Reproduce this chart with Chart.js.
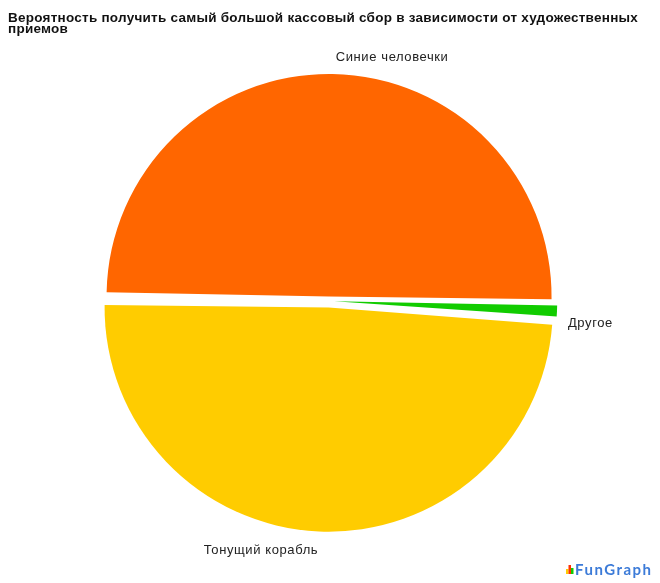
<!DOCTYPE html>
<html><head><meta charset="utf-8">
<script src="https://cdn.jsdelivr.net/npm/chart.js@4/dist/chart.umd.min.js"></script>
<style>html,body{margin:0;padding:0;background:#fff;}#wrap{width:660px;height:583px;}</style>
</head><body><div id="wrap"><canvas id="c" width="660" height="583"></canvas></div>
<script>
const titleLines = ['Вероятность получить самый большой кассовый сбор в зависимости от художественных', 'приемов'];
const categories = ['Синие человечки', 'Другое', 'Тонущий корабль'];
const values = [50, 0.9, 49.1];
const colors = ['#FF6600', '#11CC00', '#FFCC00'];
const explode = [18, 21, 26];
const logoText = 'FunGraph';

// label placement relative to each slice: angle shift (deg), distance beyond radius, alignment
const labelPlace = [
  {dA: 13.6, dist: 34, align: 'center'},
  {dA: 2.8, dist: 22, align: 'left'},
  {dA: 12.7, dist: 41, align: 'center'}
];

const textPlugin = {
  id: 'texts',
  afterDraw(chart) {
    const ctx = chart.ctx;
    ctx.save();
    // title
    ctx.fillStyle = '#111';
    ctx.font = 'bold 13.5px "Liberation Sans", Arial, sans-serif';
    ctx.textAlign = 'left';
    ctx.textBaseline = 'alphabetic';
    const w0 = ctx.measureText(titleLines[0]).width;
    const ls = Math.max(0, (630 - w0) / (titleLines[0].length - 1));
    ctx.letterSpacing = ls.toFixed(2) + 'px';
    ctx.fillText(titleLines[0], 8, 22);
    ctx.fillText(titleLines[1], 8, 32.5);
    ctx.letterSpacing = '0px';

    // slice labels
    const meta = chart.getDatasetMeta(0);
    ctx.font = '13px "Liberation Sans", Arial, sans-serif';
    ctx.fillStyle = '#222';
    ctx.textBaseline = 'middle';
    ctx.letterSpacing = '0.6px';
    meta.data.forEach((arc, i) => {
      const p = arc.getProps(['x', 'y', 'startAngle', 'endAngle', 'outerRadius'], true);
      const mid = (p.startAngle + p.endAngle) / 2 + labelPlace[i].dA * Math.PI / 180;
      const d = p.outerRadius + labelPlace[i].dist;
      const lx = p.x + Math.cos(mid) * d;
      const ly = p.y + Math.sin(mid) * d;
      ctx.textAlign = labelPlace[i].align;
      ctx.fillText(categories[i], lx, ly);
    });
    ctx.letterSpacing = '0px';

    // logo
    const bx = 566, by = 574;
    const bars = [['#FFCC00', 5], ['#FF3300', 9], ['#11CC00', 6]];
    bars.forEach((b, k) => { ctx.fillStyle = b[0]; ctx.fillRect(bx + k * 2.5, by - b[1], 2.5, b[1]); });
    ctx.fillStyle = '#3C7BD8';
    ctx.font = 'bold 15px Lato, "Liberation Sans", Arial, sans-serif';
    ctx.textAlign = 'left';
    ctx.textBaseline = 'alphabetic';
    const lw = ctx.measureText(logoText).width;
    ctx.letterSpacing = Math.max(0, (76 - lw) / (logoText.length - 1)).toFixed(2) + 'px';
    ctx.fillText(logoText, 575, 575);
    ctx.restore();
  }
};

new Chart(document.getElementById('c'), {
  type: 'pie',
  data: {
    labels: categories,
    datasets: [{
      data: values,
      backgroundColor: colors,
      borderWidth: 0,
      offset: explode,
      hoverOffset: 0,
      radius: 218
    }]
  },
  options: {
    responsive: false,
    animation: false,
    rotation: -89.1,
    layout: {padding: {left: 0, right: 2, top: 19, bottom: 0}},
    plugins: {legend: {display: false}, title: {display: false}, tooltip: {enabled: false}}
  },
  plugins: [textPlugin]
});
</script></body></html>
